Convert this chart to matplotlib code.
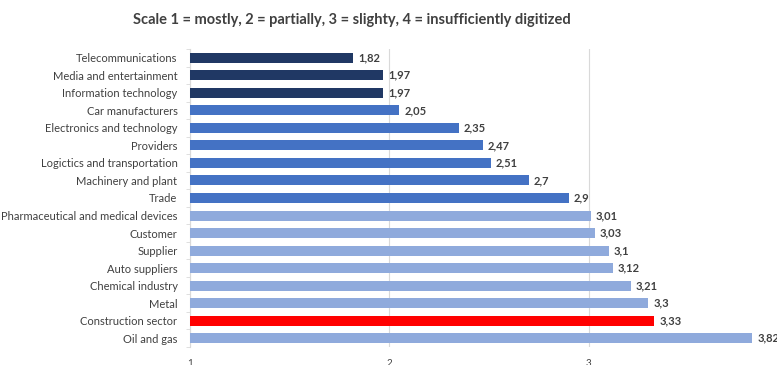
import matplotlib.pyplot as plt
import numpy as np

plt.rcParams["font.family"] = ["Lato", "DejaVu Sans"]

categories = [
    "Telecommunications", "Media and entertainment", "Information technology",
    "Car manufacturers", "Electronics and technology", "Providers",
    "Logictics and transportation", "Machinery and plant", "Trade",
    "Pharmaceutical and medical devices", "Customer", "Supplier",
    "Auto suppliers", "Chemical industry", "Metal", "Construction sector",
    "Oil and gas",
]
values = [1.82, 1.97, 1.97, 2.05, 2.35, 2.47, 2.51, 2.7, 2.9,
          3.01, 3.03, 3.1, 3.12, 3.21, 3.3, 3.33, 3.82]
labels = ["1,82", "1,97", "1,97", "2,05", "2,35", "2,47", "2,51", "2,7", "2,9",
          "3,01", "3,03", "3,1", "3,12", "3,21", "3,3", "3,33", "3,82"]
groups = ["dark"] * 3 + ["mid"] * 6 + ["light"] * 6 + ["red"] + ["light"]

palette = {"dark": "#203864", "mid": "#4472C4", "light": "#8FAADC", "red": "#FF0000"}

fig = plt.figure(figsize=(7.77, 3.65), dpi=100)
ax = fig.add_axes([190 / 777, 18 / 365, 598 / 777, 298 / 365])

y = np.arange(len(categories))
base = 1.0
ax.barh(y, np.array(values) - base, left=base, height=0.57,
        color=[palette[g] for g in groups], zorder=3)

for yi, v, lab in zip(y, values, labels):
    ax.text(v + 0.025, yi, lab, va="center", ha="left", fontsize=8,
            fontweight="bold", color="#404040")

ax.set_xlim(1, 4)
ax.set_ylim(len(categories) - 0.5, -0.5)
ax.set_yticks(y)
ax.set_yticklabels(categories, fontsize=8, color="#404040")
ax.tick_params(axis="y", length=0, pad=9)
ax.set_yticks(np.arange(-0.5, len(categories), 1), minor=True)
ax.tick_params(axis="y", which="minor", length=3, color="#D9D9D9")

ax.set_xticks([1, 2, 3, 4])
ax.set_xticklabels(["1", "2", "3", "4"], fontsize=7, color="#404040")
ax.tick_params(axis="x", length=0, pad=9)
ax.grid(axis="x", color="#D9D9D9", linewidth=0.8, zorder=0)

for s in ["top", "right", "bottom"]:
    ax.spines[s].set_visible(False)
ax.spines["left"].set_color("#D9D9D9")

fig.text(352 / 777, 0.945, "Scale 1 = mostly, 2 = partially, 3 = slighty, 4 = insufficiently digitized",
         ha="center", va="center", fontsize=10.5, fontweight="bold", color="#404040")

fig.savefig("out.png", dpi=100)
